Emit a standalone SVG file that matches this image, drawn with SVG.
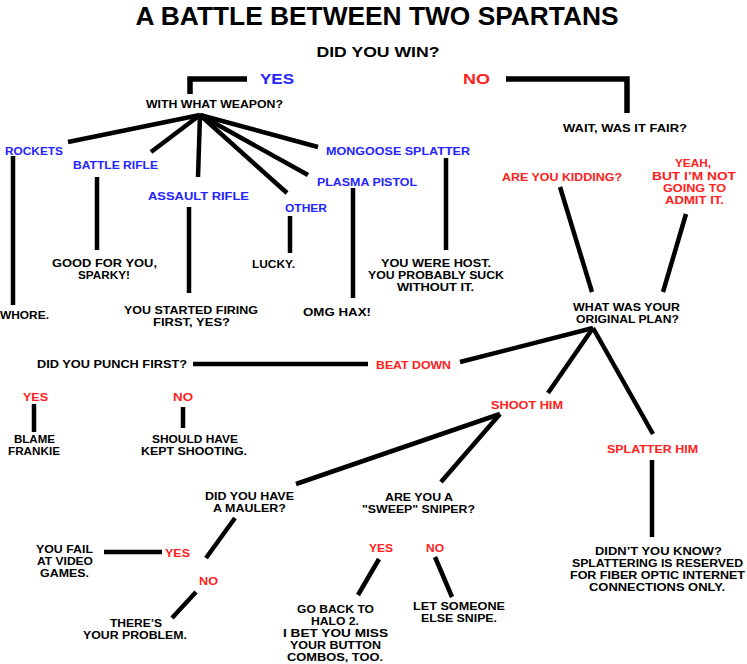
<svg xmlns="http://www.w3.org/2000/svg" width="747" height="664" viewBox="0 0 747 664">
<style>
text{font-family:"Liberation Sans","DejaVu Sans",sans-serif;font-size:11px;font-weight:bold;text-anchor:middle;fill:#000}
.b{fill:#2424ff}
.r{fill:#ff2020}
.big{font-size:15px}
.title{font-size:25px;font-weight:bold}
.ln{stroke:#000;stroke-width:4.5;fill:none;stroke-linecap:butt;stroke-linejoin:miter}
.br{stroke-width:5.5}
</style>
<rect width="747" height="664" fill="#fff"/>
<g id="connectors">
<polyline class="ln br" points="190,94 190,79 247,79"/>
<polyline class="ln br" points="506,79 627,79 627,113"/>
<line class="ln" x1="200" y1="115" x2="68" y2="142"/>
<line class="ln" x1="200" y1="115" x2="151" y2="152"/>
<line class="ln" x1="200" y1="115" x2="198" y2="177"/>
<line class="ln" x1="200" y1="115" x2="287" y2="193"/>
<line class="ln" x1="200" y1="115" x2="308" y2="175"/>
<line class="ln" x1="200" y1="115" x2="318" y2="147"/>
<line class="ln" x1="13" y1="156" x2="13" y2="305"/>
<line class="ln" x1="97" y1="177" x2="97" y2="250"/>
<line class="ln" x1="189" y1="207" x2="189" y2="293"/>
<line class="ln" x1="290" y1="216" x2="290" y2="253"/>
<line class="ln" x1="353" y1="188" x2="353" y2="298"/>
<line class="ln" x1="446" y1="158" x2="446" y2="250"/>
<line class="ln" x1="560" y1="187" x2="592" y2="292"/>
<line class="ln" x1="686" y1="214" x2="663" y2="292"/>
<line class="ln" x1="593" y1="328" x2="460" y2="362"/>
<line class="ln" x1="593" y1="328" x2="548" y2="393"/>
<line class="ln" x1="593" y1="328" x2="653" y2="434"/>
<line class="ln" x1="193" y1="364" x2="368" y2="364"/>
<line class="ln" x1="34" y1="404" x2="34" y2="432"/>
<line class="ln" x1="183" y1="407" x2="183" y2="428"/>
<line class="ln" x1="500" y1="414" x2="296" y2="484"/>
<line class="ln" x1="500" y1="414" x2="441" y2="482"/>
<line class="ln" x1="652" y1="460" x2="652" y2="537"/>
<line class="ln" x1="235" y1="518" x2="206" y2="558"/>
<line class="ln" x1="104" y1="552" x2="162" y2="552"/>
<line class="ln" x1="196" y1="592" x2="172" y2="618"/>
<line class="ln" x1="379" y1="559" x2="358" y2="595"/>
<line class="ln" x1="435" y1="557" x2="452" y2="597"/>
</g>
<g id="title"><text class="title" x="377" y="25" textLength="483" lengthAdjust="spacingAndGlyphs">A BATTLE BETWEEN TWO SPARTANS</text></g>
<g id="did-you-win"><text class="big" x="378" y="57" textLength="123" lengthAdjust="spacingAndGlyphs">DID YOU WIN?</text></g>
<g id="yes-top"><text class="big b" x="277" y="84" textLength="34" lengthAdjust="spacingAndGlyphs">YES</text></g>
<g id="no-top"><text class="big r" x="476.5" y="84" textLength="27" lengthAdjust="spacingAndGlyphs">NO</text></g>
<g id="weapon"><text x="214.5" y="108" textLength="137" lengthAdjust="spacingAndGlyphs">WITH WHAT WEAPON?</text></g>
<g id="rockets"><text class="b" x="34" y="155" textLength="58" lengthAdjust="spacingAndGlyphs">ROCKETS</text></g>
<g id="battle-rifle"><text class="b" x="115.5" y="169" textLength="85" lengthAdjust="spacingAndGlyphs">BATTLE RIFLE</text></g>
<g id="assault-rifle"><text class="b" x="198.5" y="200" textLength="101" lengthAdjust="spacingAndGlyphs">ASSAULT RIFLE</text></g>
<g id="other"><text class="b" x="306" y="212" textLength="42" lengthAdjust="spacingAndGlyphs">OTHER</text></g>
<g id="plasma-pistol"><text class="b" x="367" y="186" textLength="100" lengthAdjust="spacingAndGlyphs">PLASMA PISTOL</text></g>
<g id="mongoose"><text class="b" x="398" y="155" textLength="144" lengthAdjust="spacingAndGlyphs">MONGOOSE SPLATTER</text></g>
<g id="whore"><text x="24.5" y="319" textLength="49" lengthAdjust="spacingAndGlyphs">WHORE.</text></g>
<g id="sparky"><text x="104.5" y="267" textLength="105" lengthAdjust="spacingAndGlyphs">GOOD FOR YOU,</text><text x="104" y="279" textLength="52" lengthAdjust="spacingAndGlyphs">SPARKY!</text></g>
<g id="started-firing"><text x="191" y="314" textLength="134" lengthAdjust="spacingAndGlyphs">YOU STARTED FIRING</text><text x="191.5" y="326" textLength="77" lengthAdjust="spacingAndGlyphs">FIRST, YES?</text></g>
<g id="lucky"><text x="273.5" y="268" textLength="43" lengthAdjust="spacingAndGlyphs">LUCKY.</text></g>
<g id="omg"><text x="337" y="316" textLength="68" lengthAdjust="spacingAndGlyphs">OMG HAX!</text></g>
<g id="host"><text x="436" y="267" textLength="110" lengthAdjust="spacingAndGlyphs">YOU WERE HOST.</text><text x="436" y="279" textLength="136" lengthAdjust="spacingAndGlyphs">YOU PROBABLY SUCK</text><text x="435.5" y="291" textLength="77" lengthAdjust="spacingAndGlyphs">WITHOUT IT.</text></g>
<g id="fair"><text x="625" y="132" textLength="124" lengthAdjust="spacingAndGlyphs">WAIT, WAS IT FAIR?</text></g>
<g id="kidding"><text class="r" x="562" y="181" textLength="120" lengthAdjust="spacingAndGlyphs">ARE YOU KIDDING?</text></g>
<g id="yeah"><text class="r" x="693" y="167" textLength="36" lengthAdjust="spacingAndGlyphs">YEAH,</text><text class="r" x="694" y="180" textLength="84" lengthAdjust="spacingAndGlyphs">BUT I’M NOT</text><text class="r" x="694.5" y="192" textLength="63" lengthAdjust="spacingAndGlyphs">GOING TO</text><text class="r" x="694.5" y="204" textLength="59" lengthAdjust="spacingAndGlyphs">ADMIT IT.</text></g>
<g id="plan"><text x="626.5" y="311" textLength="107" lengthAdjust="spacingAndGlyphs">WHAT WAS YOUR</text><text x="627.5" y="323" textLength="103" lengthAdjust="spacingAndGlyphs">ORIGINAL PLAN?</text></g>
<g id="punch"><text x="112" y="368" textLength="150" lengthAdjust="spacingAndGlyphs">DID YOU PUNCH FIRST?</text></g>
<g id="beat-down"><text class="r" x="413.5" y="369" textLength="75" lengthAdjust="spacingAndGlyphs">BEAT DOWN</text></g>
<g id="punch-yes"><text class="r" x="35.5" y="401" textLength="25" lengthAdjust="spacingAndGlyphs">YES</text></g>
<g id="punch-no"><text class="r" x="183" y="401" textLength="20" lengthAdjust="spacingAndGlyphs">NO</text></g>
<g id="blame"><text x="34.5" y="443" textLength="41" lengthAdjust="spacingAndGlyphs">BLAME</text><text x="34" y="455" textLength="52" lengthAdjust="spacingAndGlyphs">FRANKIE</text></g>
<g id="kept-shooting"><text x="195" y="443" textLength="86" lengthAdjust="spacingAndGlyphs">SHOULD HAVE</text><text x="194" y="455" textLength="106" lengthAdjust="spacingAndGlyphs">KEPT SHOOTING.</text></g>
<g id="shoot-him"><text class="r" x="527" y="409" textLength="72" lengthAdjust="spacingAndGlyphs">SHOOT HIM</text></g>
<g id="splatter-him"><text class="r" x="652.5" y="453" textLength="91" lengthAdjust="spacingAndGlyphs">SPLATTER HIM</text></g>
<g id="mauler"><text x="249.5" y="500" textLength="89" lengthAdjust="spacingAndGlyphs">DID YOU HAVE</text><text x="249.5" y="512" textLength="73" lengthAdjust="spacingAndGlyphs">A MAULER?</text></g>
<g id="sweep"><text x="419" y="501" textLength="68" lengthAdjust="spacingAndGlyphs">ARE YOU A</text><text x="418.5" y="513" textLength="113" lengthAdjust="spacingAndGlyphs">"SWEEP" SNIPER?</text></g>
<g id="mauler-yes"><text class="r" x="177.5" y="557" textLength="25" lengthAdjust="spacingAndGlyphs">YES</text></g>
<g id="fail"><text x="64.5" y="553" textLength="57" lengthAdjust="spacingAndGlyphs">YOU FAIL</text><text x="65" y="565" textLength="56" lengthAdjust="spacingAndGlyphs">AT VIDEO</text><text x="64.5" y="577" textLength="49" lengthAdjust="spacingAndGlyphs">GAMES.</text></g>
<g id="mauler-no"><text class="r" x="208.5" y="585" textLength="19" lengthAdjust="spacingAndGlyphs">NO</text></g>
<g id="problem"><text x="136" y="627" textLength="52" lengthAdjust="spacingAndGlyphs">THERE’S</text><text x="135" y="639" textLength="104" lengthAdjust="spacingAndGlyphs">YOUR PROBLEM.</text></g>
<g id="sniper-yes"><text class="r" x="381" y="552" textLength="24" lengthAdjust="spacingAndGlyphs">YES</text></g>
<g id="sniper-no"><text class="r" x="435" y="552" textLength="18" lengthAdjust="spacingAndGlyphs">NO</text></g>
<g id="halo2"><text x="335.5" y="613" textLength="77" lengthAdjust="spacingAndGlyphs">GO BACK TO</text><text x="335" y="625" textLength="48" lengthAdjust="spacingAndGlyphs">HALO 2.</text><text x="335.5" y="637" textLength="105" lengthAdjust="spacingAndGlyphs">I BET YOU MISS</text><text x="335.5" y="649" textLength="91" lengthAdjust="spacingAndGlyphs">YOUR BUTTON</text><text x="335" y="661" textLength="96" lengthAdjust="spacingAndGlyphs">COMBOS, TOO.</text></g>
<g id="snipe"><text x="459" y="610" textLength="92" lengthAdjust="spacingAndGlyphs">LET SOMEONE</text><text x="459" y="622" textLength="76" lengthAdjust="spacingAndGlyphs">ELSE SNIPE.</text></g>
<g id="fiber"><text x="658.5" y="555" textLength="127" lengthAdjust="spacingAndGlyphs">DIDN’T YOU KNOW?</text><text x="657.5" y="567" textLength="171" lengthAdjust="spacingAndGlyphs">SPLATTERING IS RESERVED</text><text x="657.5" y="579" textLength="175" lengthAdjust="spacingAndGlyphs">FOR FIBER OPTIC INTERNET</text><text x="657" y="591" textLength="136" lengthAdjust="spacingAndGlyphs">CONNECTIONS ONLY.</text></g>
</svg>
